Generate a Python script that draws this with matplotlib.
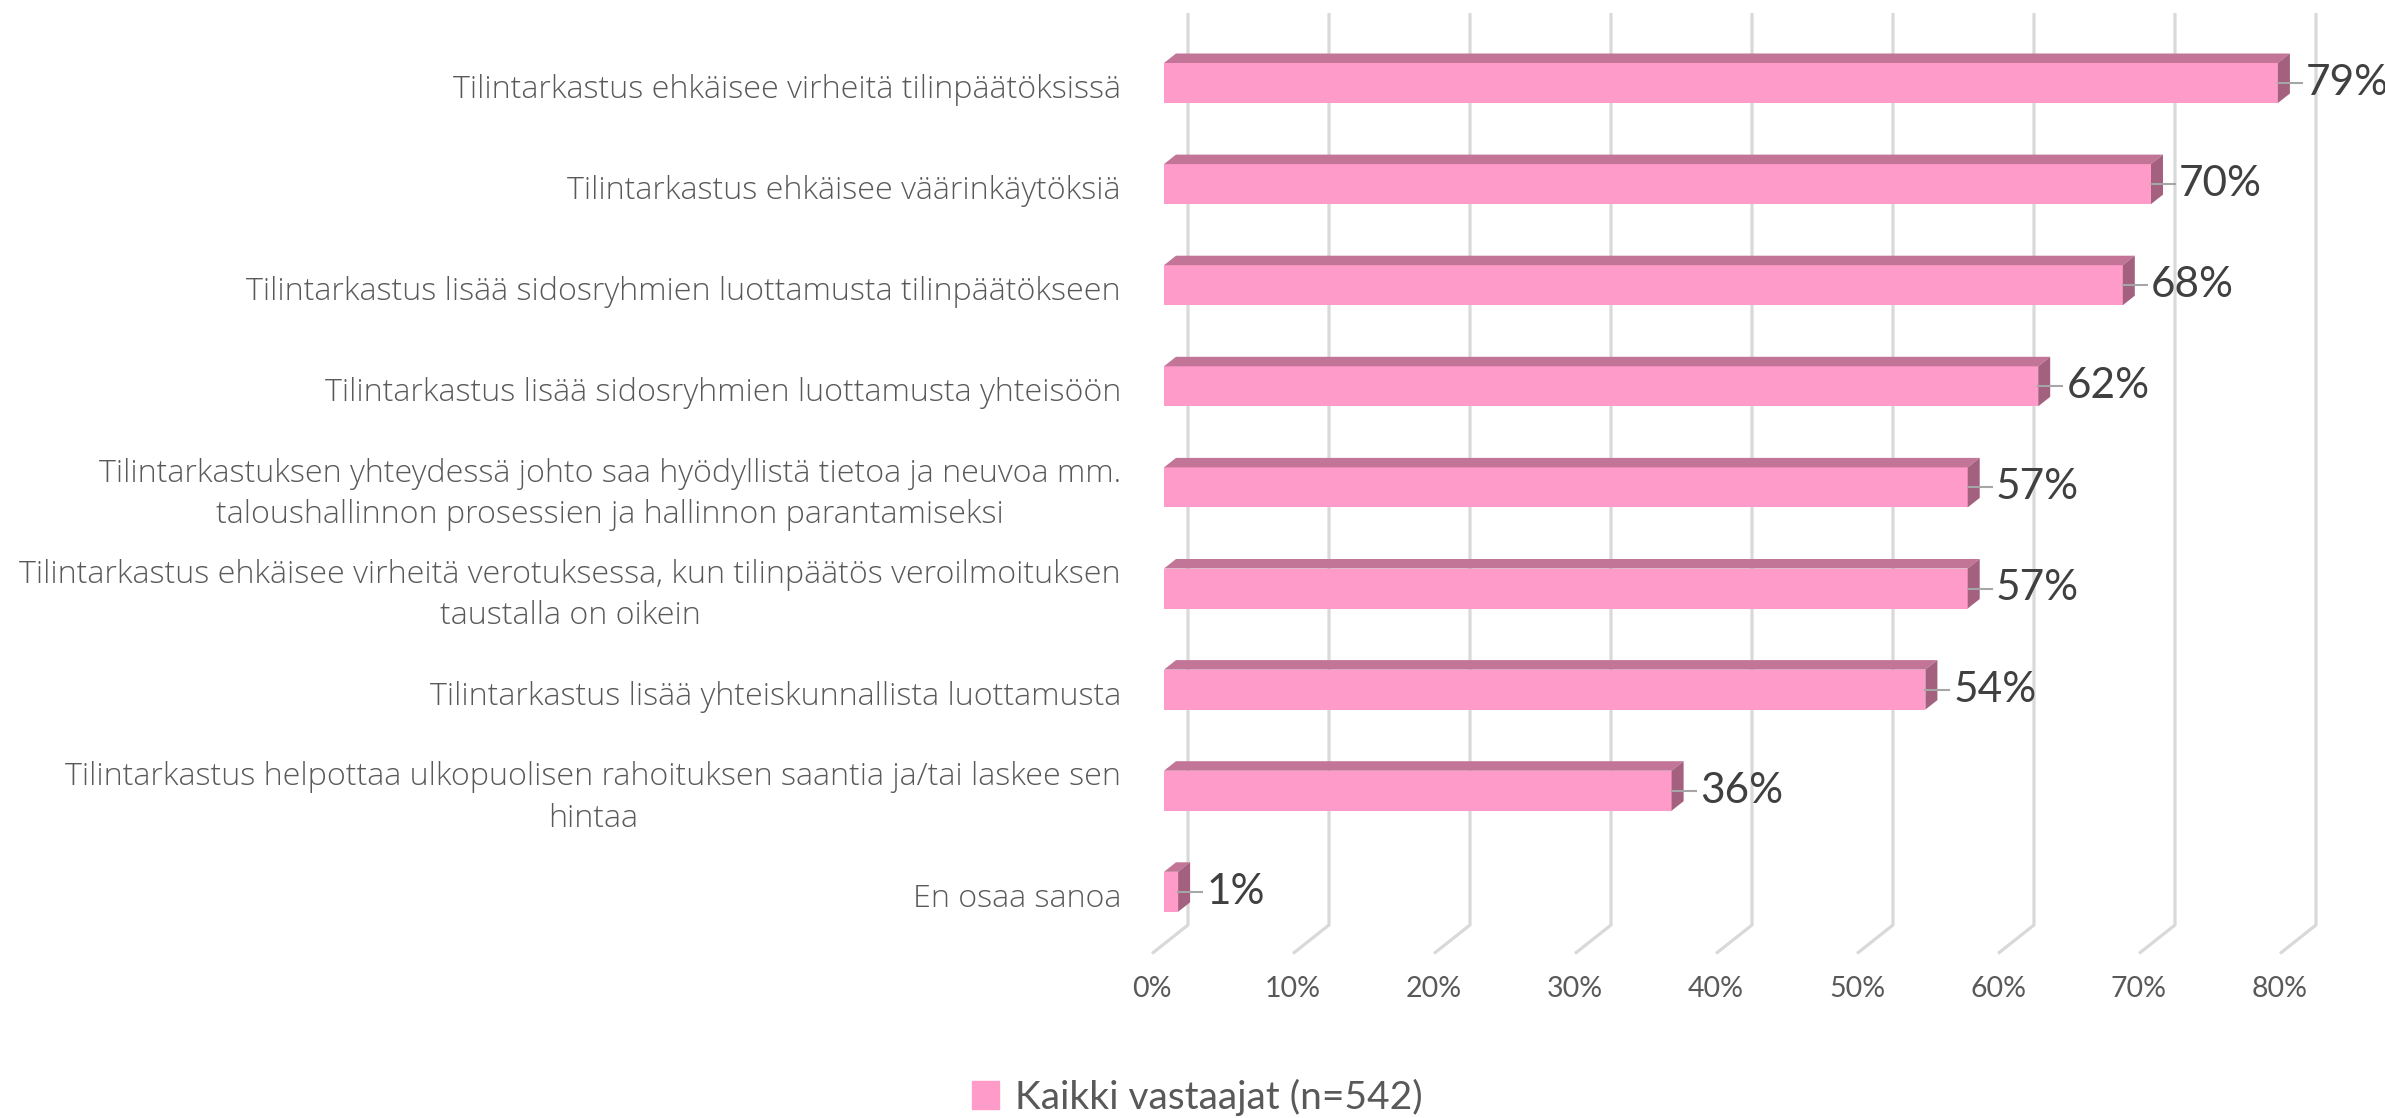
import numpy as np
import matplotlib.pyplot as plt
from matplotlib.patches import Polygon, Patch

categories = [
    "Tilintarkastus ehkäisee virheitä tilinpäätöksissä",
    "Tilintarkastus ehkäisee väärinkäytöksiä",
    "Tilintarkastus lisää sidosryhmien luottamusta tilinpäätökseen",
    "Tilintarkastus lisää sidosryhmien luottamusta yhteisöön",
    "Tilintarkastuksen yhteydessä johto saa hyödyllistä tietoa ja neuvoa mm.\ntaloushallinnon prosessien ja hallinnon parantamiseksi",
    "Tilintarkastus ehkäisee virheitä verotuksessa, kun tilinpäätös veroilmoituksen\ntaustalla on oikein",
    "Tilintarkastus lisää yhteiskunnallista luottamusta",
    "Tilintarkastus helpottaa ulkopuolisen rahoituksen saantia ja/tai laskee sen\nhintaa",
    "En osaa sanoa",
]
values = [79, 70, 68, 62, 57, 57, 54, 36, 1]
ticks = [0, 10, 20, 30, 40, 50, 60, 70, 80]
tick_labels = [f"{t}%" for t in ticks]
series_name = "Kaikki vastaajat (n=542)"

front_c = "#FF9BC8"
top_c = "#C27597"
side_c = "#A3617F"
grid_c = "#D9D9D9"

# oblique 3d look: one depth layer = 12 px right, 9.5 px up
px_x = 14.1   # px per percent
px_y = 101.1  # px per category
dx = 12 / px_x
dy = -9.5 / px_y
bh = 40 / px_y

fig = plt.figure(figsize=(23.85, 11.18), dpi=100)
W, H = 2385, 1118
x0, x1 = -2, 86
y_top, y_bot = -0.8, 9.3
left = 1164 + x0 * px_x
right = 1164 + x1 * px_x
top = 83 + y_top * px_y
bot = 83 + y_bot * px_y
ax = fig.add_axes([left / W, 1 - bot / H, (right - left) / W, (bot - top) / H])
ax.set_xlim(x0, x1)
ax.set_ylim(y_bot, y_top)
ax.axis('off')

# back wall gridlines + floor
wall_bot = (925 - 83) / px_y
for t in ticks:
    xs = [t + 2 * dx, t + 2 * dx, t - dx]
    ys = [(13 - 83) / px_y, wall_bot, wall_bot - 3 * dy]
    ax.plot(xs, ys, color=grid_c, lw=2.3, solid_capstyle='butt', zorder=1)
for t, lab in zip(ticks, tick_labels):
    ax.text(t - dx, (989 - 83) / px_y, lab, ha='center', va='center',
            fontsize=20.5, color='#595959', family='Lato')

for i, (cat, v) in enumerate(zip(categories, values)):
    yt, yb = i - bh / 2, i + bh / 2
    ax.barh(i, v, height=bh, color=front_c, edgecolor='none', zorder=3)
    ax.add_patch(Polygon([(0, yt), (dx, yt + dy), (v + dx, yt + dy), (v, yt)],
                         closed=True, fc=top_c, ec='none', zorder=3))
    ax.add_patch(Polygon([(v, yt), (v + dx, yt + dy), (v + dx, yb + dy), (v, yb)],
                         closed=True, fc=side_c, ec='none', zorder=3))
    ax.plot([v, v + 1.7], [i, i], color='#A6A6A6', lw=1.5, zorder=4)
    ax.text(v + 2.0, i, f"{v}%", ha='left', va='center', fontsize=30.5,
            color='#404040', family='Lato', zorder=5)
    ax.text(-3.05, i + 0.07, cat, ha='right', va='center', multialignment='center',
            fontsize=23.2, color='#595959', family='Open Sans', fontweight='light',
            linespacing=1.4)

fig.legend([Patch(color=front_c)], [series_name], loc='center',
           bbox_to_anchor=(0.502, 1 - 1097 / H), frameon=False,
           prop={'family': 'Lato', 'size': 28}, labelcolor='#595959',
           handlelength=0.7, handleheight=0.7, handletextpad=0.4)

plt.savefig('out.png', dpi=100)
